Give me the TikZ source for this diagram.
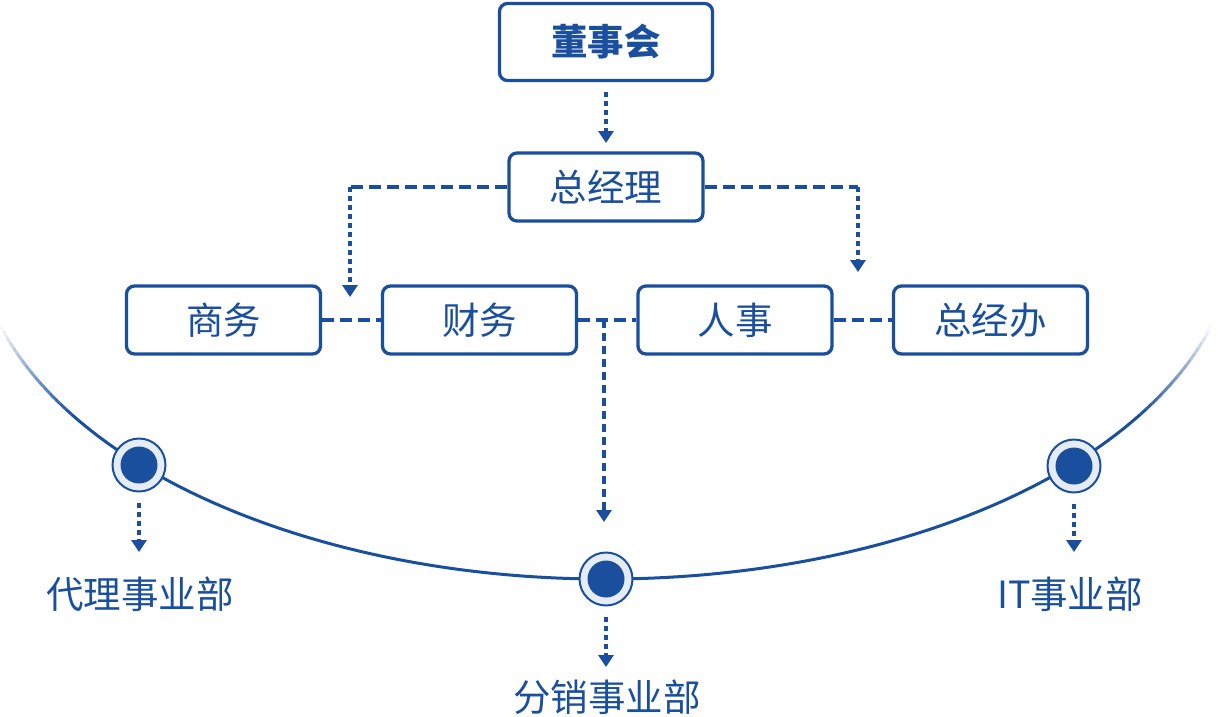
\documentclass[tikz,border=0pt]{standalone}
\usepackage{fontspec}
\setmainfont{Noto Sans CJK SC}
\usetikzlibrary{arrows.meta}
\definecolor{mb}{HTML}{1A4F9E}
\definecolor{lb}{HTML}{E6ECF5}
\begin{document}
\begin{tikzpicture}[x=1pt,y=-1pt,
  box/.style={draw=mb, line width=3.3pt, rounded corners=8pt, text=mb, inner sep=0pt,
    minimum width=194pt, minimum height=68pt, font=\fontsize{37.5}{42}\selectfont},
  hd/.style={mb, line width=4pt, dash pattern=on 12pt off 6pt},
  vd/.style={mb, line width=4pt, dash pattern=on 5pt off 4pt},
  md/.style={mb, line width=4pt, dash pattern=on 8pt off 5pt},
  tip/.style={-{Triangle[width=15pt,length=12pt]}},
  outc/.style={circle, draw=mb, line width=2pt, fill=lb, minimum size=53pt, inner sep=0pt},
  lab/.style={text=mb, font=\fontsize{37.5}{42}\selectfont, inner sep=0pt},
  arcline/.style={mb, line width=3pt}
]
\useasboundingbox (0,0) rectangle (1218,716);

% ellipse arc
\draw[arcline] (606,229) ++(32:630 and 350) arc[start angle=32, end angle=148, x radius=630, y radius=350];
\foreach \i in {0,...,15}{
  \pgfmathsetmacro\op{(\i+0.5)/16}
  \pgfmathsetmacro\aa{164-\i}
  \pgfmathsetmacro\ab{163-\i}
  \pgfmathsetmacro\ba{16+\i}
  \pgfmathsetmacro\bb{17+\i}
  \draw[arcline, opacity=\op] (606,229) ++(\aa:630 and 350) arc[start angle=\aa, end angle=\ab, x radius=630, y radius=350];
  \draw[arcline, opacity=\op] (606,229) ++(\ba:630 and 350) arc[start angle=\ba, end angle=\bb, x radius=630, y radius=350];
}

% boxes
\node[box, minimum width=213pt, minimum height=77pt, font=\fontsize{36.5}{42}\selectfont\bfseries] (dsh) at (606,42) {董事会};
\node[box] (zjl) at (606,187) {总经理};
\node[box] (sw) at (223.5,320) {商务};
\node[box] (cw) at (479.5,320) {财务};
\node[box] (rs) at (735,320) {人事};
\node[box] (zjb) at (990.5,320) {总经办};

% connectors
\coordinate (t0) at (606,143);
\draw[vd,tip] (dsh.south) ++(0,10) -- (t0);

\coordinate (lc) at (350,187);
\coordinate (lt) at (350,297);
\draw[hd] (zjl.west) -- (lc);
\draw[vd,tip] (lc) -- (lt);
\coordinate (rc) at (858,187);
\coordinate (rt) at (858,272);
\draw[hd] (zjl.east) -- (rc);
\draw[vd,tip] (rc) -- (rt);

\draw[hd] (sw.east) -- (cw.west);
\draw[hd] (cw.east) -- (rs.west);
\draw[hd] (rs.east) -- (zjb.west);
\coordinate (mj) at (604,320);
\coordinate (mt) at (604,522);
\draw[md,tip] (mj) -- (mt);

% circles
\node[outc] (c1) at (139,465) {};
\node[outc] (c2) at (606,579) {};
\node[outc] (c3) at (1074,466) {};
\foreach \c in {c1,c2,c3} \fill[mb] (\c) circle (18.5pt);

% labels
\node[lab] (l1) at (140,594) {代理事业部};
\node[lab] (l2) at (607,697) {分销事业部};
\node[lab] (l3) at (1070,594) {IT事业部};

\coordinate (t1) at (139,552);
\coordinate (t2) at (606,667);
\coordinate (t3) at (1074,552);
\draw[vd,tip] (c1.south) ++(0,10) -- (t1);
\draw[vd,tip] (c2.south) ++(0,10) -- (t2);
\draw[vd,tip] (c3.south) ++(0,10) -- (t3);
\end{tikzpicture}
\end{document}
